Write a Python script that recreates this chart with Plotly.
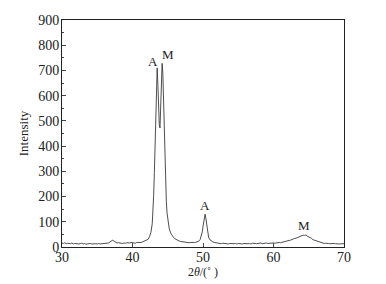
import plotly.graph_objects as go

two_theta = [
    30.0, 30.2, 30.4, 30.6, 30.8, 31.0, 31.2, 31.4, 31.6, 31.8,
    32.0, 32.2, 32.4, 32.6, 32.8, 33.0, 33.2, 33.4, 33.6, 33.8,
    34.0, 34.2, 34.4, 34.6, 34.8, 35.0, 35.2, 35.4, 35.6, 35.8,
    36.0, 36.2, 36.4, 36.6, 36.8, 37.0, 37.2, 37.4, 37.6, 37.8,
    38.0, 38.2, 38.4, 38.6, 38.8, 39.0, 39.2, 39.4, 39.6, 39.8,
    40.0, 40.2, 40.4, 40.6, 40.8, 41.0, 41.2, 41.4, 41.6, 41.8,
    42.0, 42.2, 42.4, 42.6, 42.8, 42.9, 43.0, 43.1, 43.2, 43.3,
    43.4, 43.5, 43.6, 43.7, 43.8, 43.9, 44.0, 44.1, 44.2, 44.3,
    44.4, 44.5, 44.6, 44.7, 44.8, 44.9, 45.0, 45.2, 45.4, 45.6,
    45.8, 46.0, 46.2, 46.4, 46.6, 46.8, 47.0, 47.2, 47.4, 47.6,
    47.8, 48.0, 48.2, 48.4, 48.6, 48.8, 49.0, 49.2, 49.4, 49.6,
    49.8, 49.9, 50.0, 50.1, 50.2, 50.3, 50.4, 50.5, 50.6, 50.7,
    50.8, 51.0, 51.2, 51.4, 51.6, 51.8, 52.0, 52.2, 52.4, 52.6,
    52.8, 53.0, 53.2, 53.4, 53.6, 53.8, 54.0, 54.2, 54.4, 54.6,
    54.8, 55.0, 55.2, 55.4, 55.6, 55.8, 56.0, 56.2, 56.4, 56.6,
    56.8, 57.0, 57.2, 57.4, 57.6, 57.8, 58.0, 58.2, 58.4, 58.6,
    58.8, 59.0, 59.2, 59.4, 59.6, 59.8, 60.0, 60.2, 60.4, 60.6,
    60.8, 61.0, 61.2, 61.4, 61.6, 61.8, 62.0, 62.2, 62.4, 62.6,
    62.8, 63.0, 63.2, 63.4, 63.6, 63.8, 64.0, 64.2, 64.4, 64.6,
    64.8, 65.0, 65.2, 65.4, 65.6, 65.8, 66.0, 66.2, 66.4, 66.6,
    66.8, 67.0, 67.2, 67.4, 67.6, 67.8, 68.0, 68.2, 68.4, 68.6,
    68.8, 69.0, 69.2, 69.4, 69.6, 69.8, 70.0,
]

intensity = [
    16, 14, 17, 13, 15, 14, 13, 16, 12, 14,
    13, 15, 12, 14, 15, 12, 14, 11, 13, 12,
    14, 12, 13, 11, 13, 12, 14, 12, 13, 14,
    13, 15, 14, 16, 20, 25, 27, 23, 19, 16,
    17, 15, 16, 14, 16, 15, 17, 15, 16, 18,
    16, 17, 15, 18, 17, 19, 18, 20, 22, 23,
    26, 30, 40, 57, 92, 132, 205, 295, 405, 535,
    650, 710, 645, 545, 485, 472, 560, 680, 728, 690,
    580, 450, 330, 240, 180, 135, 105, 75, 56, 46,
    39, 33, 29, 26, 24, 22, 21, 19, 20, 18,
    19, 17, 18, 17, 19, 18, 19, 20, 23, 30,
    45, 60, 82, 106, 125, 130, 115, 90, 65, 48,
    38, 28, 23, 20, 18, 17, 16, 14, 15, 13,
    15, 14, 13, 15, 12, 14, 13, 15, 13, 14,
    12, 14, 13, 15, 12, 14, 13, 15, 13, 14,
    12, 15, 13, 14, 13, 15, 14, 16, 13, 15,
    14, 16, 14, 15, 17, 15, 16, 15, 17, 16,
    18, 17, 19, 18, 21, 22, 24, 26, 27, 30,
    31, 34, 35, 38, 40, 43, 44, 47, 46, 48,
    43, 41, 36, 34, 29, 27, 23, 22, 19, 18,
    16, 15, 14, 15, 13, 14, 13, 14, 12, 14,
    13, 12, 14, 12, 13, 12, 13,
]

peak_labels = ["A", "M", "A", "M"]
peak_label_x = [42.9, 45.0, 50.3, 64.3]
peak_label_y = [735, 765, 165, 85]

x_ticks = [30, 40, 50, 60, 70]
y_ticks = [0, 100, 200, 300, 400, 500, 600, 700, 800, 900]

font_family = "Liberation Serif, Times New Roman, serif"

fig = go.Figure()
fig.add_trace(go.Scatter(
    x=two_theta, y=intensity, mode="lines",
    line=dict(color="#3a3a3a", width=0.9),
    showlegend=False, hoverinfo="skip",
))

for lab, lx, ly in zip(peak_labels, peak_label_x, peak_label_y):
    fig.add_annotation(x=lx, y=ly, text=lab, showarrow=False,
                       font=dict(family=font_family, size=13, color="#222"))

# the page adds an 8px body margin, so margins are offset accordingly
fig.update_layout(
    width=386, height=284,
    margin=dict(l=54, r=50, t=12, b=45),
    paper_bgcolor="white", plot_bgcolor="white",
    font=dict(family=font_family, size=12, color="#222"),
)
fig.update_xaxes(
    range=[30, 70], tickvals=x_ticks, ticks="inside", ticklen=4,
    showline=True, linecolor="#222", linewidth=1, mirror=True,
    showgrid=False, zeroline=False, automargin=False,
    tickfont=dict(size=14), ticklabelstandoff=-3,
    title=dict(text="2<i>θ</i>/(˚ )", font=dict(size=12), standoff=0),
)
fig.update_yaxes(
    range=[0, 900], tickvals=y_ticks, ticks="inside", ticklen=4,
    minor=dict(ticks="inside", ticklen=2, dtick=50, tick0=0),
    showline=True, linecolor="#222", linewidth=1, mirror=True,
    showgrid=False, zeroline=False, automargin=False,
    tickfont=dict(size=14), ticklabelstandoff=-1,
    title=dict(text="Intensity", font=dict(size=13), standoff=6),
)

fig.write_html("out.html")
